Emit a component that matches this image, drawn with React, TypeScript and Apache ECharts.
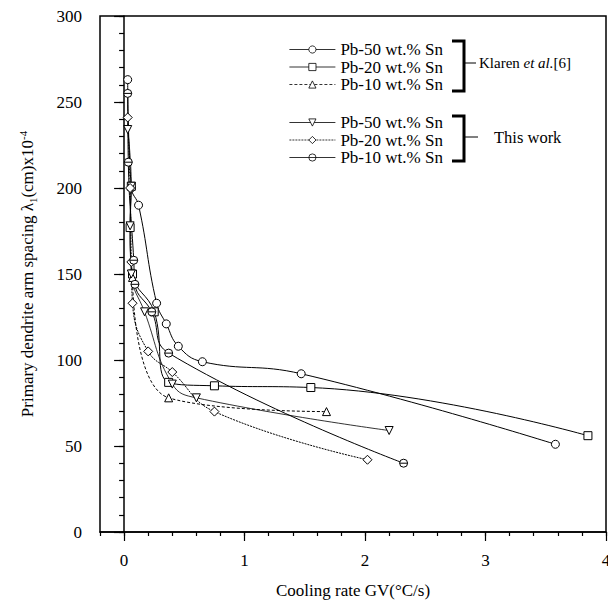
import React, { useEffect, useRef } from 'react';
import * as echarts from 'echarts';

const FONT = 'Liberation Serif';

// Series names (prefix before "|" keeps the two groups distinct; the legend shows only the part after it)
const seriesNames = [
  'Klaren|Pb-50 wt.% Sn',
  'Klaren|Pb-20 wt.% Sn',
  'Klaren|Pb-10 wt.% Sn',
  'This|Pb-50 wt.% Sn',
  'This|Pb-20 wt.% Sn',
  'This|Pb-10 wt.% Sn',
];

// Data: [cooling rate GV (°C/s), primary spacing λ1 (cm)x10^-4]
const klarenPb50: [number, number][] = [
  [0.03, 263], [0.06, 200], [0.12, 190], [0.27, 133], [0.35, 121], [0.45, 108], [0.65, 99], [1.47, 92], [3.58, 51],
];
const klarenPb20: [number, number][] = [
  [0.06, 201], [0.05, 177], [0.07, 150], [0.25, 128], [0.37, 87], [0.75, 85], [1.55, 84], [3.85, 56],
];
const klarenPb10: [number, number][] = [
  [0.07, 148], [0.37, 78], [1.68, 70],
];
const thisPb50: [number, number][] = [
  [0.03, 234], [0.06, 201], [0.05, 178], [0.06, 150], [0.17, 128], [0.4, 86], [0.6, 78], [2.2, 59],
];
const thisPb20: [number, number][] = [
  [0.03, 241], [0.05, 200], [0.06, 157], [0.07, 133], [0.2, 105], [0.4, 93], [0.75, 70], [2.02, 42],
];
const thisPb10: [number, number][] = [
  [0.03, 255], [0.035, 215], [0.08, 158], [0.09, 144], [0.23, 128], [0.37, 104], [2.32, 40],
];

const xTickLabels = [0, 1, 2, 3, 4];
const yTickLabels = [0, 50, 100, 150, 200, 250, 300];

const SYM_DOWN = 'path://M0,0L10,0L5,9Z';
const SYM_CIRCLE_BAR = 'path://M0,5A5,5,0,1,1,10,5A5,5,0,1,1,0,5ZM0,5L10,5';

function mk(name: string, data: [number, number][], symbol: string, size: number, lineType: any, width: number) {
  return {
    type: 'line',
    name,
    data,
    xAxisIndex: 0,
    yAxisIndex: 0,
    smooth: 0.45,
    symbol,
    symbolSize: size,
    showSymbol: true,
    lineStyle: { color: '#000', width, type: lineType },
    itemStyle: { color: '#fff', borderColor: '#000', borderWidth: 1 },
    emphasis: { disabled: true },
  };
}

export default function App() {
  const ref = useRef<HTMLDivElement>(null);
  useEffect(() => {
    if (!ref.current) return;
    const chart = echarts.init(ref.current, null, { renderer: 'svg' });
    const axisFont = { fontFamily: FONT, fontSize: 17, color: '#000' };
    const gridPos = { left: 100, right: 2, top: 16, bottom: 77 };
    const legendCommon = {
      orient: 'vertical',
      itemWidth: 46,
      itemHeight: 9,
      itemGap: 0.5,
      selectedMode: false,
      lineStyle: { width: 0.8 },
      itemStyle: { borderWidth: 0.8 },
      textStyle: { fontFamily: FONT, fontSize: 17, color: '#000' },
      formatter: (n: string) => n.split('|')[1],
    };
    chart.setOption({
      animation: false,
      backgroundColor: '#fff',
      grid: [
        { ...gridPos, show: true, borderColor: '#000', borderWidth: 1.5, outerBoundsMode: 'none' },
        { ...gridPos, show: false, outerBoundsMode: 'none' },
      ],
      xAxis: [
        {
          type: 'value', gridIndex: 0, min: -0.2, max: 4, interval: 0.2,
          axisLine: { show: true, lineStyle: { color: '#000', width: 1.5 } },
          axisTick: { show: true, length: 4, lineStyle: { color: '#000', width: 1.2 } },
          axisLabel: { ...axisFont, customValues: xTickLabels, margin: 20 },
          splitLine: { show: false },
          name: 'Cooling rate GV(°C/s)',
          nameLocation: 'middle',
          nameGap: 50,
          nameTextStyle: { fontFamily: FONT, fontSize: 17, color: '#000' },
        },
        {
          type: 'value', gridIndex: 1, min: -0.2, max: 4,
          axisLine: { show: false },
          axisTick: { show: true, length: 9, customValues: xTickLabels, lineStyle: { color: '#000', width: 1.2 } },
          axisLabel: { show: false },
          splitLine: { show: false },
        },
      ],
      yAxis: [
        {
          type: 'value', gridIndex: 0, min: 0, max: 300, interval: 10,
          axisLine: { show: true, lineStyle: { color: '#000', width: 1.5 } },
          axisTick: { show: true, length: 5, lineStyle: { color: '#000', width: 1.2 } },
          axisLabel: { ...axisFont, customValues: yTickLabels, margin: 18 },
          splitLine: { show: false },
          name: 'Primary dendrite arm spacing λ{s|1}(cm)x10{p|-4}',
          nameLocation: 'middle',
          nameGap: 62,
          nameTextStyle: {
            fontFamily: FONT, fontSize: 17, color: '#000',
            rich: {
              s: { fontFamily: FONT, fontSize: 11, color: '#000', padding: [10, 0, 0, 0] },
              p: { fontFamily: FONT, fontSize: 11, color: '#000', padding: [0, 0, 10, 0] },
            },
          },
        },
        {
          type: 'value', gridIndex: 1, min: 0, max: 300,
          axisLine: { show: false },
          axisTick: { show: true, length: 10, customValues: yTickLabels, lineStyle: { color: '#000', width: 1.2 } },
          axisLabel: { show: false },
          splitLine: { show: false },
        },
      ],
      legend: [
        { ...legendCommon, left: 284, top: 36, data: seriesNames.slice(0, 3) },
        { ...legendCommon, left: 284, top: 109, data: seriesNames.slice(3, 6) },
      ],
      graphic: [
        { type: 'polyline', shape: { points: [[452, 41], [464, 41], [464, 91], [452, 91]] }, style: { stroke: '#000', lineWidth: 3, fill: 'none' } },
        { type: 'line', shape: { x1: 465, y1: 63, x2: 476, y2: 63 }, style: { stroke: '#000', lineWidth: 1 } },
        {
          type: 'text', x: 479, y: 63,
          style: {
            text: '{n|Klaren }{i|et al.}{n|[6]}',
            fill: '#000', fontFamily: FONT, fontSize: 15, verticalAlign: 'middle',
            rich: {
              n: { fontFamily: FONT, fontSize: 15, fill: '#000' },
              i: { fontFamily: FONT, fontSize: 15, fontStyle: 'italic', fill: '#000' },
            },
          },
        },
        { type: 'polyline', shape: { points: [[452, 116], [464, 116], [464, 161], [452, 161]] }, style: { stroke: '#000', lineWidth: 3, fill: 'none' } },
        { type: 'line', shape: { x1: 465, y1: 137, x2: 478, y2: 137 }, style: { stroke: '#000', lineWidth: 1 } },
        {
          type: 'text', x: 494, y: 137,
          style: { text: 'This work', fill: '#000', fontFamily: FONT, fontSize: 16.5, verticalAlign: 'middle' },
        },
      ],
      series: [
        mk(seriesNames[0], klarenPb50, 'circle', 8, 'solid', 1),
        mk(seriesNames[1], klarenPb20, 'rect', 8, 'solid', 1),
        mk(seriesNames[2], klarenPb10, 'triangle', 8, [3, 2], 1),
        mk(seriesNames[3], thisPb50, SYM_DOWN, 8, 'solid', 0.8),
        mk(seriesNames[4], thisPb20, 'diamond', 9, [2, 1], 1),
        mk(seriesNames[5], thisPb10, SYM_CIRCLE_BAR, 8, 'solid', 1),
      ],
    });
    return () => chart.dispose();
  }, []);
  return <div ref={ref} style={{ position: 'fixed', left: 0, top: 0, width: 608, height: 609 }} />;
}
